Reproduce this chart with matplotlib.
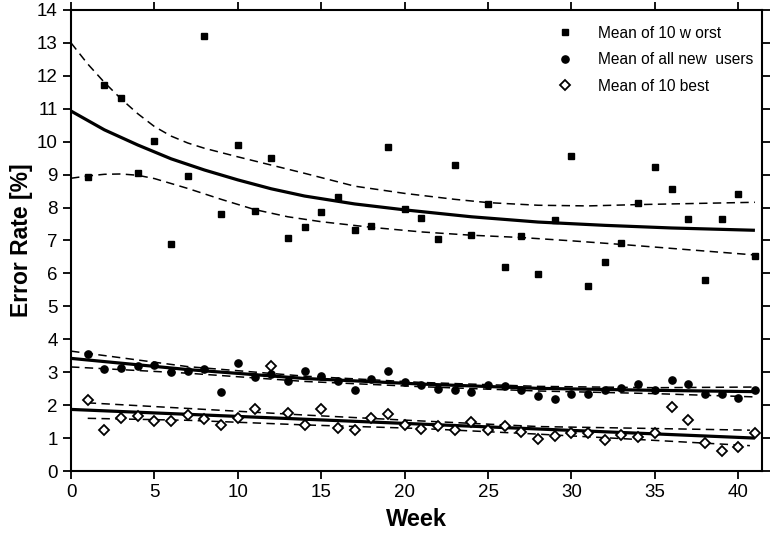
import numpy as np
import matplotlib.pyplot as plt

plt.rcParams['font.family'] = ['Liberation Sans', 'DejaVu Sans']

weeks = np.arange(1, 42)

# weekly error rates [%]
worst = [8.93, 11.72, 11.33, 9.05, 10.03, 6.89, 8.96, 13.21, 7.81, 9.90,
         7.89, 9.52, 7.08, 7.41, 7.87, 8.31, 7.31, 7.44, 9.84, 7.97,
         7.69, 7.05, 9.30, 7.16, 8.11, 6.19, 7.13, 5.97, 7.61, 9.56,
         5.61, 6.34, 6.91, 8.14, 9.22, 8.57, 7.66, 5.80, 7.65, 8.42, 6.52]
all_users = [3.54, 3.09, 3.13, 3.19, 3.21, 3.01, 3.03, 3.09, 2.41, 3.29,
             2.85, 2.94, 2.73, 3.05, 2.87, 2.73, 2.47, 2.80, 3.04, 2.70,
             2.60, 2.50, 2.45, 2.41, 2.61, 2.58, 2.45, 2.28, 2.19, 2.35,
             2.35, 2.45, 2.53, 2.64, 2.45, 2.76, 2.64, 2.33, 2.35, 2.22, 2.47]
best = [2.15, 1.25, 1.61, 1.66, 1.52, 1.52, 1.71, 1.59, 1.41, 1.61,
        1.87, 3.19, 1.77, 1.41, 1.87, 1.31, 1.25, 1.61, 1.73, 1.40,
        1.28, 1.38, 1.25, 1.49, 1.25, 1.38, 1.17, 0.96, 1.05, 1.16,
        1.16, 0.94, 1.08, 1.03, 1.16, 1.93, 1.54, 0.85, 0.61, 0.72, 1.16]

# fitted trend and band
worst_fit_w = [0, 2, 4, 6, 8, 10, 12, 14, 17, 20, 24, 28, 32, 36, 41]
worst_fit = [10.93, 10.36, 9.90, 9.48, 9.14, 8.84, 8.57, 8.35, 8.11, 7.93,
             7.72, 7.56, 7.46, 7.38, 7.31]
worst_hi_w = [0, 1, 2, 3, 4, 5, 6, 7, 8, 10, 12, 14, 17, 20, 23, 25, 28, 31, 34, 37, 41]
worst_hi = [13.0, 12.36, 11.80, 11.30, 10.85, 10.46, 10.17, 9.96, 9.80, 9.54,
            9.29, 9.04, 8.65, 8.43, 8.25, 8.15, 8.07, 8.05, 8.09, 8.12, 8.16]
worst_lo_w = [0, 1, 2, 3, 4, 5, 7, 9, 11, 13, 15, 18, 21, 24, 27, 30, 33, 36, 41]
worst_lo = [8.89, 8.96, 9.01, 9.02, 8.98, 8.88, 8.58, 8.25, 7.94, 7.72,
            7.57, 7.40, 7.26, 7.16, 7.09, 6.99, 6.88, 6.76, 6.56]

all_fit_w = [0, 7, 14, 21, 28, 35, 41]
all_fit = [3.42, 3.08, 2.81, 2.64, 2.51, 2.45, 2.41]
all_hi = [3.64, 3.17, 2.88, 2.69, 2.57, 2.53, 2.55]
all_lo = [3.16, 2.97, 2.72, 2.56, 2.43, 2.35, 2.25]

best_fit_w = [0, 41]
best_fit = [1.87, 1.00]
best_band_w = [1, 7, 14, 21, 28, 35, 40.7]
best_hi = [2.07, 1.90, 1.70, 1.52, 1.35, 1.29, 1.24]
best_lo = [1.60, 1.54, 1.40, 1.29, 1.12, 0.93, 0.77]

fig = plt.figure(figsize=(7.73, 5.33), dpi=100)
ax = fig.add_axes([0.0919, 0.1163, 0.894, 0.865])

solid = dict(color='k', lw=2.3, solid_capstyle='butt')
dash = dict(color='k', lw=1.1, ls=(0, (5.5, 3.5)))

ax.plot(worst_fit_w, worst_fit, **solid)
ax.plot(worst_hi_w, worst_hi, **dash)
ax.plot(worst_lo_w, worst_lo, **dash)
ax.plot(all_fit_w, all_fit, **solid)
ax.plot(all_fit_w, all_hi, **dash)
ax.plot(all_fit_w, all_lo, **dash)
ax.plot(best_fit_w, best_fit, **solid)
ax.plot(best_band_w, best_hi, **dash)
ax.plot(best_band_w, best_lo, **dash)

ax.plot(weeks, worst, 's', color='k', ms=5, ls='none', label='Mean of 10 w orst')
ax.plot(weeks, all_users, 'o', color='k', ms=5.2, ls='none', label='Mean of all new  users')
ax.plot(weeks, best, 'D', mfc='white', mec='k', mew=1.3, ms=5, ls='none', label='Mean of 10 best')

ax.set_xlim(0, 41.43)
ax.set_ylim(0, 14)
ax.set_xticks(np.arange(0, 41, 5))
ax.set_yticks(np.arange(0, 15, 1))
ax.tick_params(direction='out', length=6, width=1.3, labelsize=13.5,
               top=True, right=True, labeltop=False, labelright=False)
for s in ax.spines.values():
    s.set_linewidth(1.5)

ax.set_xlabel('Week', fontsize=17, fontweight='bold', labelpad=5)
ax.set_ylabel('Error Rate [%]', fontsize=16.5, fontweight='bold', labelpad=3)

ax.legend(loc='upper left', bbox_to_anchor=(0.694, 0.979), frameon=False,
          fontsize=11.2, handlelength=1.0, handletextpad=1.62, labelspacing=0.74,
          borderaxespad=0)

fig.savefig('out.png', dpi=100)
